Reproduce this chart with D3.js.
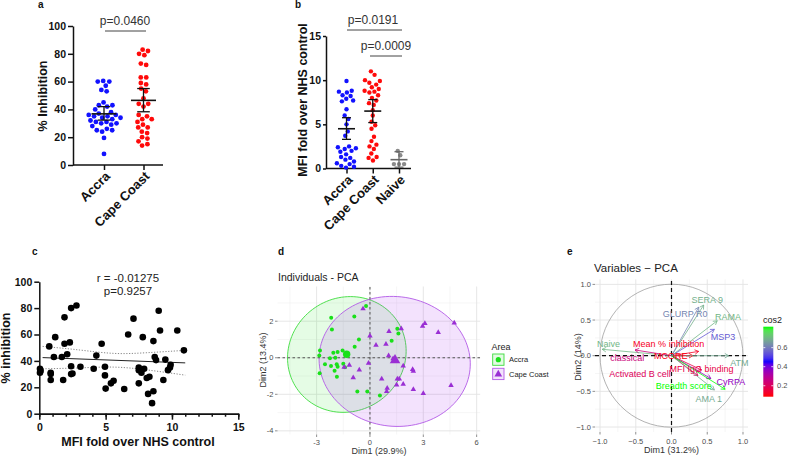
<!DOCTYPE html>
<html>
<head>
<meta charset="utf-8">
<script src="https://cdn.jsdelivr.net/npm/d3@7"></script>
<style>
  body { margin: 0; background: #fff; }
  text { font-family: Arial, "Liberation Sans", sans-serif; }
</style>
</head>
<body>
<svg id="chart" width="793" height="457"></svg>
<script>
// ====== Dados ======
// painel a: % inibição por área
const groupsA = ["Accra", "Cape Coast"];
const inhibAccra = [60, 60.5, 60, 57, 54, 53, 45, 43, 43, 42, 40, 38, 37, 36, 36, 35, 35, 34, 34, 33, 32, 31, 31, 30, 30, 29, 28, 26, 25, 25, 24, 19.5, 8];
const inhibCape = [83, 82, 80, 79, 73, 72, 63, 63, 59, 58, 55, 53, 48, 44, 44, 42, 36, 35, 33, 33, 31, 29, 27, 27, 24, 23, 20, 19, 17, 15, 14];
const meanA = [36.8, 46.5];
const semLowA = [32.3, 38.3];
const semHighA = [42, 55];
const ticksA = [0, 20, 40, 60, 80, 100];

// painel b: MFI fold over NHS
const groupsB = ["Accra", "Cape Coast", "Naive"];
const mfiAccra = [9.9, 8.8, 8.7, 8.6, 8.3, 8.2, 7.9, 7.7, 7.6, 6.7, 6.0, 5.6, 5.0, 4.2, 3.7, 2.5, 2.4, 2.3, 2.2, 2.0, 1.9, 1.6, 1.3, 1.2, 1.0, 0.8, 0.6, 0.5, 0.3, 0.2, 0.1];
const mfiCape = [11.0, 10.6, 10.0, 9.9, 9.7, 9.5, 9.2, 9.0, 8.8, 8.7, 8.6, 8.3, 8.0, 7.7, 7.4, 7.2, 6.6, 6.0, 5.3, 4.9, 4.5, 3.6, 3.1, 2.7, 2.5, 2.2, 1.7, 1.3, 1.2, 0.9];
const mfiNaive = [2.0, 1.5, 0.5, 0.5, 0.5];
const meanB = [4.5, 6.5, 1.0];
const semLowB = [3.3, 5.2, 0.15];
const semHighB = [5.75, 7.8, 1.9];
const ticksB = [0, 5, 10, 15];

// painel c: correlação
const corrX = [0.05, 0.05, 0.1, 0.75, 0.86, 0.86, 0.86, 1.1, 1.2, 1.7, 1.8, 1.9, 1.9, 2.1, 2.3, 2.4, 2.4, 2.4, 2.5, 2.8, 3.1, 4.1, 4.3, 4.7, 4.95, 4.95, 5.0, 5.4, 5.6, 6.4, 6.7, 7.1, 7.5, 7.5, 7.5, 7.7, 7.8, 7.9, 8.1, 8.2, 8.3, 8.5, 8.6, 8.6, 8.7, 8.8, 9.0, 9.1, 9.35, 9.5, 9.7, 9.85, 9.9, 10.4, 10.9];
const corrY = [34, 31, 32.5, 51, 31, 30, 25.5, 43, 58, 43, 25.5, 73, 53, 45, 54, 80, 30, 36, 30.5, 82, 35.6, 34, 44, 53, 35.6, 29, 19, 23, 25, 18.7, 60, 72, 23, 35, 33, 31, 58, 34, 27, 15, 28, 8, 17, 55, 43, 40.6, 78, 63, 25.5, 41, 33, 35, 37, 63, 48];
const fitX = [0.25, 11];
const fitY = [42.5, 38.5];
const bandX = [0.25, 3, 5.6, 8.1, 11];
const bandUpper = [51, 48.3, 45.7, 46.2, 48];
const bandLower = [34, 34.7, 35.3, 33.2, 29.2];

// painel d: PCA indivíduos
const accraPC1 = [-0.22, -2.18, -0.88, -2.14, 1.54, 1.6, 1.22, -0.62, -0.86, -2.81, -2.85, -2.06, -1.82, -1.54, -2.25, -1.95, -2.53, -2.19, -1.87, -1.82, -1.5, -1.41, -1.99, -2.83, -1.86, -0.71, -0.15, 0.56];
const accraPC2 = [2.83, 2.19, 2.26, 1.55, 1.59, 1.33, 0.93, 1.0, 0.6, 0.4, 0.13, 0.27, 0.31, 0.4, -0.03, 0, -0.36, -0.45, -0.36, -0.49, -0.33, -0.52, -0.71, -0.85, -1.04, -1.84, -1.84, -2.06];
const capePC1 = [-0.39, 1.07, 1.76, 0, 0.34, 0.9, 1.05, -1.16, -1.45, -0.08, -0.6, 1.87, -0.94, 0.66, 1.54, 1.65, 1.5, 1.87, 0.97, 0.94, 2.44, 2.4, 3.09, 2.96, 4.74, 3.84, 2.44, 3.0, 4.56, 1.3];
const capePC2 = [2.68, 1.44, 1.59, 1.2, 0.69, 0.75, 0.11, -0.4, -0.52, -0.29, -0.67, -0.45, -1.09, -1.16, -1.16, -1.16, -1.49, -1.45, -1.67, -1.84, -1.73, -0.64, 1.88, 1.73, 1.91, 1.39, -0.73, -1.95, -1.51, -0.05];
const areaNames = ["Accra", "Cape Coast"];
const areaMeanX = [-1.31, 1.41];
const areaMeanY = [0.19, -0.13];
const ellA = [3.38, 4.26];
const ellB = [3.12, 3.55];
const ellAngle = [25, -6];
const ellCx = [-1.3, 1.39];
const ellCy = [0.18, -0.2];

// painel e: PCA variáveis
const varNames = ["Naive", "classical", "Mean % inhibition", "MCORE", "MFI IgG binding", "Activated B cell", "ATM", "SERA 9", "GLURP R0", "RAMA", "MSP3", "CyRPA", "AMA 1", "Breadth score"];
const varDim1 = [-0.97, -0.51, 0.38, 0.3, 0.42, 0.37, 0.8, 0.45, 0.38, 0.64, 0.6, 0.55, 0.6, 0.75];
const varDim2 = [0.09, 0.08, 0.06, 0.0, -0.2, -0.28, 0.0, 0.71, 0.68, 0.49, 0.37, -0.32, -0.48, -0.47];
const varCos2 = [0.7, 0.25, 0.12, 0.1, 0.17, 0.2, 0.68, 0.69, 0.62, 0.7, 0.55, 0.36, 0.68, 0.82];
const labelDim1 = [-0.88, -0.62, -0.04, -0.01, 0.42, -0.44, 0.95, 0.5, 0.19, 0.79, 0.72, 0.83, 0.52, 0.17];
const labelDim2 = [0.17, -0.03, 0.17, -0.005, -0.19, -0.26, -0.1, 0.78, 0.58, 0.54, 0.26, -0.36, -0.61, -0.42];
const cos2Ticks = [0.2, 0.4, 0.6];

const svg = d3.select("#chart");

// ====== Funções auxiliares ======
function panelLabel(x, y, t) {
  svg.append("text").attr("x", x).attr("y", y).text(t)
    .style("font-size", "10px").style("font-weight", "bold").attr("fill", "#111");
}

// arranjo tipo "beeswarm" com simulação de forças
function swarm(values, y, cx, r) {
  const nodes = values.slice().sort((a, b) => b - a)
    .map((v, i) => ({ v, x: cx + (i % 2 ? 0.7 : -0.7) * ((i % 3) + 1), y: y(v), fy: y(v) }));
  const sim = d3.forceSimulation(nodes)
    .force("x", d3.forceX(cx).strength(0.12))
    .force("collide", d3.forceCollide(r + 0.35))
    .stop();
  for (let i = 0; i < 250; i++) sim.tick();
  return nodes;
}

function styleAxis(sel, fs) {
  sel.selectAll("path, line").attr("stroke", "#111").attr("stroke-width", 1.5);
  sel.selectAll("text").style("font-size", fs).style("font-weight", "bold").attr("fill", "#111");
}

function dotPanel(o) {
  const g = svg.append("g");
  const y = d3.scaleLinear().domain(o.yDomain).range(o.yRange);
  const x = d3.scalePoint().domain(o.groups).range(o.xRange);

  const yAx = g.append("g").attr("transform", `translate(${o.axisX},0)`)
    .call(d3.axisLeft(y).tickValues(o.yTicks).tickSize(o.tick).tickPadding(2).tickSizeOuter(0));
  styleAxis(yAx, "10.5px");

  const xAx = g.append("g").attr("transform", `translate(0,${o.yRange[0]})`)
    .call(d3.axisBottom(x).tickSize(5).tickSizeOuter(0));
  xAx.select(".domain").remove();
  styleAxis(xAx, "13px");
  xAx.selectAll("text")
    .attr("x", -4).attr("y", 8.5).attr("dy", "0.35em")
    .attr("transform", "rotate(-45)").style("text-anchor", "end");
  g.append("line").attr("x1", o.axisX).attr("x2", o.axisEnd)
    .attr("y1", o.yRange[0]).attr("y2", o.yRange[0])
    .attr("stroke", "#111").attr("stroke-width", 1.5);

  o.series.forEach((vals, i) => {
    const pts = swarm(vals, y, x(o.groups[i]), o.r);
    g.append("g").selectAll("circle").data(pts).enter().append("circle")
      .attr("cx", d => d.x).attr("cy", d => d.y).attr("r", o.r)
      .attr("fill", o.colors[i]);
  });

  o.groups.forEach((gr, i) => {
    const cx = x(gr);
    const col = o.barColors[i];
    g.append("line").attr("x1", cx - o.meanHalf).attr("x2", cx + o.meanHalf)
      .attr("y1", y(o.mean[i])).attr("y2", y(o.mean[i]))
      .attr("stroke", col).attr("stroke-width", 1.6);
    g.append("line").attr("x1", cx).attr("x2", cx)
      .attr("y1", y(o.semLow[i])).attr("y2", y(o.semHigh[i]))
      .attr("stroke", col).attr("stroke-width", 1.3);
    [o.semLow[i], o.semHigh[i]].forEach(v => {
      g.append("line").attr("x1", cx - o.capHalf).attr("x2", cx + o.capHalf)
        .attr("y1", y(v)).attr("y2", y(v))
        .attr("stroke", col).attr("stroke-width", 1.3);
    });
  });

  g.append("text").attr("transform", `translate(${o.titleX},${o.titleY}) rotate(-90)`)
    .attr("text-anchor", "middle").text(o.yTitle)
    .style("font-size", "12.5px").style("font-weight", "bold").attr("fill", "#111");

  o.brackets.forEach(b => {
    g.append("line").attr("x1", b.x1).attr("x2", b.x2).attr("y1", b.y).attr("y2", b.y)
      .attr("stroke", "#444").attr("stroke-width", 1);
    g.append("text").attr("x", b.tx).attr("y", b.ty).attr("text-anchor", "middle")
      .text(b.label).style("font-size", "12px").attr("fill", "#333");
  });
  return { x, y };
}

// ====== Painel a ======
panelLabel(38, 8, "a");
dotPanel({
  groups: groupsA, series: [inhibAccra, inhibCape],
  colors: ["#1212ff", "#ff0a0a"], barColors: ["#111", "#111"],
  yDomain: [0, 100], yRange: [165, 26], yTicks: ticksA,
  xRange: [104, 143.5], axisX: 73, axisEnd: 163, tick: 5,
  mean: meanA, semLow: semLowA, semHigh: semHighA,
  r: 2.4, meanHalf: 12.5, capHalf: 6.3,
  yTitle: "% Inhibition", titleX: 46.5, titleY: 96,
  brackets: [{ x1: 105, x2: 146, y: 31, tx: 125, ty: 25, label: "p=0.0460" }]
});

// ====== Painel b ======
panelLabel(295, 8, "b");
dotPanel({
  groups: groupsB, series: [mfiAccra, mfiCape, mfiNaive],
  colors: ["#1212ff", "#ff0a0a", "#8a8a8a"], barColors: ["#111", "#111", "#666"],
  yDomain: [0, 15], yRange: [168.5, 36], yTicks: ticksB,
  xRange: [346.5, 399], axisX: 326, axisEnd: 411, tick: 3,
  mean: meanB, semLow: semLowB, semHigh: semHighB,
  r: 2.2, meanHalf: 8.5, capHalf: 4.5,
  yTitle: "MFI fold over NHS control", titleX: 306.5, titleY: 100,
  brackets: [
    { x1: 347, x2: 402, y: 30, tx: 373, ty: 24, label: "p=0.0191" },
    { x1: 370, x2: 402, y: 56, tx: 386, ty: 49.5, label: "p=0.0009" }
  ]
});

// ====== Painel c ======
panelLabel(32, 255, "c");
(function () {
  const g = svg.append("g");
  const x = d3.scaleLinear().domain([0, 15]).range([39.3, 238.3]);
  const y = d3.scaleLinear().domain([0, 100]).range([413.7, 281.7]);

  const yAx = g.append("g").attr("transform", "translate(39.3,0)")
    .call(d3.axisLeft(y).tickValues([0, 20, 40, 60, 80, 100]).tickSize(5).tickPadding(2).tickSizeOuter(0));
  styleAxis(yAx, "10.5px");
  const xMinor = g.append("g").attr("transform", "translate(0,413.7)")
    .call(d3.axisBottom(x).tickValues(d3.range(0, 16)).tickSize(3).tickFormat("").tickSizeOuter(0));
  styleAxis(xMinor, "10.5px");
  const xAx = g.append("g").attr("transform", "translate(0,413.7)")
    .call(d3.axisBottom(x).tickValues([0, 5, 10, 15]).tickSize(6).tickPadding(4).tickSizeOuter(0));
  styleAxis(xAx, "10.5px");

  const band = d3.line().x((d, i) => x(bandX[i])).y(d => y(d)).curve(d3.curveNatural);
  [bandUpper, bandLower].forEach(b => {
    g.append("path").attr("d", band(b)).attr("fill", "none")
      .attr("stroke", "#777").attr("stroke-width", 0.9).attr("stroke-dasharray", "1.2,1.6");
  });
  g.append("line").attr("x1", x(fitX[0])).attr("x2", x(fitX[1]))
    .attr("y1", y(fitY[0])).attr("y2", y(fitY[1]))
    .attr("stroke", "#222").attr("stroke-width", 1);

  g.append("g").selectAll("circle").data(corrX).enter().append("circle")
    .attr("cx", d => x(d)).attr("cy", (d, i) => y(corrY[i])).attr("r", 3.3).attr("fill", "#000");

  g.append("text").attr("x", 128).attr("y", 282).attr("text-anchor", "middle")
    .text("r = -0.01275").style("font-size", "11.5px").attr("fill", "#222");
  g.append("text").attr("x", 128).attr("y", 295).attr("text-anchor", "middle")
    .text("p=0.9257").style("font-size", "11.5px").attr("fill", "#222");

  g.append("text").attr("x", 138).attr("y", 446).attr("text-anchor", "middle")
    .text("MFI fold over NHS control").style("font-size", "12.5px").style("font-weight", "bold").attr("fill", "#111");
  g.append("text").attr("transform", "translate(10,348) rotate(-90)").attr("text-anchor", "middle")
    .text("% inhibition").style("font-size", "12.5px").style("font-weight", "bold").attr("fill", "#111");
})();

// ====== Painel d ======
panelLabel(278, 255, "d");
(function () {
  const g = svg.append("g");
  const x = d3.scaleLinear().domain([-5.2, 6.2]).range([277.5, 480.2]);
  const y = d3.scaleLinear().domain([-4.2, 3.9]).range([434.5, 286.5]);
  const [x0, x1] = x.range(), [y0, y1] = y.range();

  // grade
  [-4.5, -1.5, 1.5, 4.5].forEach(v => g.append("line").attr("x1", x(v)).attr("x2", x(v)).attr("y1", y0).attr("y2", y1).attr("stroke", "#f0f0f0").attr("stroke-width", 0.6));
  [-3, -1, 1, 3].forEach(v => g.append("line").attr("y1", y(v)).attr("y2", y(v)).attr("x1", x0).attr("x2", x1).attr("stroke", "#f0f0f0").attr("stroke-width", 0.6));
  [-3, 0, 3, 6].forEach(v => g.append("line").attr("x1", x(v)).attr("x2", x(v)).attr("y1", y0).attr("y2", y1).attr("stroke", "#e3e3e3").attr("stroke-width", 0.9));
  [-4, -2, 0, 2].forEach(v => g.append("line").attr("y1", y(v)).attr("y2", y(v)).attr("x1", x0).attr("x2", x1).attr("stroke", "#e3e3e3").attr("stroke-width", 0.9));

  // elipses
  const fills = ["rgba(0,230,0,0.10)", "rgba(160,32,240,0.13)"];
  const strokes = ["#3ddc3d", "#b25ae6"];
  areaNames.forEach((a, i) => {
    const th = ellAngle[i] * Math.PI / 180;
    const pts = d3.range(0, 360, 3).map(dg => {
      const s = dg * Math.PI / 180;
      const ex = ellA[i] * Math.cos(s), ey = ellB[i] * Math.sin(s);
      return [x(ellCx[i] + ex * Math.cos(th) - ey * Math.sin(th)), y(ellCy[i] + ex * Math.sin(th) + ey * Math.cos(th))];
    });
    g.append("path").attr("d", d3.line()(pts) + "Z")
      .attr("fill", fills[i]).attr("stroke", strokes[i]).attr("stroke-width", 0.9);
  });

  // linhas tracejadas
  g.append("line").attr("x1", x(0)).attr("x2", x(0)).attr("y1", y0).attr("y2", y1)
    .attr("stroke", "#555").attr("stroke-width", 1).attr("stroke-dasharray", "2.5,2.5");
  g.append("line").attr("y1", y(0)).attr("y2", y(0)).attr("x1", x0).attr("x2", x1)
    .attr("stroke", "#555").attr("stroke-width", 1).attr("stroke-dasharray", "2.5,2.5");

  // pontos
  const green = "#19e019", purple = "#9a2fd4";
  g.append("g").selectAll("circle").data(accraPC1).enter().append("circle")
    .attr("cx", d => x(d)).attr("cy", (d, i) => y(accraPC2[i])).attr("r", 2).attr("fill", green);
  const tri = d3.symbol(d3.symbolTriangle, 13);
  g.append("g").selectAll("path").data(capePC1).enter().append("path")
    .attr("d", tri).attr("transform", (d, i) => `translate(${x(d)},${y(capePC2[i])})`).attr("fill", purple);
  g.append("circle").attr("cx", x(areaMeanX[0])).attr("cy", y(areaMeanY[0])).attr("r", 3.7).attr("fill", green);
  g.append("path").attr("d", d3.symbol(d3.symbolTriangle, 48))
    .attr("transform", `translate(${x(areaMeanX[1])},${y(areaMeanY[1])})`).attr("fill", purple);

  // eixos
  [-3, 0, 3, 6].forEach(v => {
    g.append("line").attr("x1", x(v)).attr("x2", x(v)).attr("y1", y0).attr("y2", y0 + 2.5).attr("stroke", "#444").attr("stroke-width", 0.6);
    g.append("text").attr("x", x(v)).attr("y", 444.5).attr("text-anchor", "middle").text(v)
      .style("font-size", "7.5px").attr("fill", "#4d4d4d");
  });
  [-4, -2, 0, 2].forEach(v => {
    g.append("line").attr("x1", x0 - 2.5).attr("x2", x0).attr("y1", y(v)).attr("y2", y(v)).attr("stroke", "#444").attr("stroke-width", 0.6);
    g.append("text").attr("x", x0 - 4).attr("y", y(v)).attr("dy", "0.35em").attr("text-anchor", "end").text(v)
      .style("font-size", "7.5px").attr("fill", "#4d4d4d");
  });
  g.append("text").attr("x", 379).attr("y", 454).attr("text-anchor", "middle")
    .text("Dim1 (29.9%)").style("font-size", "9px").attr("fill", "#333");
  g.append("text").attr("transform", "translate(266,360) rotate(-90)").attr("text-anchor", "middle")
    .text("Dim2 (13.4%)").style("font-size", "9px").attr("fill", "#333");
  g.append("text").attr("x", 278).attr("y", 281).text("Individuals - PCA")
    .style("font-size", "10.5px").attr("fill", "#222");

  // legenda
  g.append("text").attr("x", 491.5).attr("y", 350).text("Area").style("font-size", "9px").attr("fill", "#222");
  const keyFill = ["#e2fbe2", "#f2e2fb"];
  areaNames.forEach((a, i) => {
    const ky = 354 + i * 14.3;
    g.append("rect").attr("x", 492.7).attr("y", ky).attr("width", 11.3).attr("height", 11.3)
      .attr("fill", keyFill[i]).attr("stroke", strokes[i]).attr("stroke-width", 0.9);
    if (i === 0) {
      g.append("circle").attr("cx", 498.3).attr("cy", ky + 5.65).attr("r", 2.6).attr("fill", green);
    } else {
      g.append("path").attr("d", d3.symbol(d3.symbolTriangle, 26))
        .attr("transform", `translate(498.3,${ky + 6})`).attr("fill", purple);
    }
    g.append("text").attr("x", 509).attr("y", ky + 5.65).attr("dy", "0.35em").text(a)
      .style("font-size", "7.5px").attr("fill", "#222");
  });
})();

// ====== Painel e ======
panelLabel(567, 255, "e");
(function () {
  const g = svg.append("g");
  const x = d3.scaleLinear().domain([-1.07, 1.07]).range([595, 748]);
  const y = d3.scaleLinear().domain([-1.07, 1.07]).range([432, 279.4]);
  const [x0, x1] = x.range(), [y0, y1] = y.range();
  const color = d3.scaleLinear().domain([0.09, 0.455, 0.82])
    .range(["#ff0000", "#0000ff", "#00ff00"]).interpolate(d3.interpolateLab);

  [-0.75, -0.25, 0.25, 0.75].forEach(v => {
    g.append("line").attr("x1", x(v)).attr("x2", x(v)).attr("y1", y0).attr("y2", y1).attr("stroke", "#f0f0f0").attr("stroke-width", 0.6);
    g.append("line").attr("y1", y(v)).attr("y2", y(v)).attr("x1", x0).attr("x2", x1).attr("stroke", "#f0f0f0").attr("stroke-width", 0.6);
  });
  const ticksE = [-1, -0.5, 0, 0.5, 1];
  ticksE.forEach(v => {
    g.append("line").attr("x1", x(v)).attr("x2", x(v)).attr("y1", y0).attr("y2", y1).attr("stroke", "#e3e3e3").attr("stroke-width", 0.9);
    g.append("line").attr("y1", y(v)).attr("y2", y(v)).attr("x1", x0).attr("x2", x1).attr("stroke", "#e3e3e3").attr("stroke-width", 0.9);
  });

  // círculo de correlação
  g.append("circle").attr("cx", x(0)).attr("cy", y(0)).attr("r", x(1) - x(0))
    .attr("fill", "none").attr("stroke", "#a0a0a0").attr("stroke-width", 0.8);

  g.append("line").attr("x1", x(0)).attr("x2", x(0)).attr("y1", y0).attr("y2", y1)
    .attr("stroke", "#111").attr("stroke-width", 1.2).attr("stroke-dasharray", "4,3");
  g.append("line").attr("y1", y(0)).attr("y2", y(0)).attr("x1", x0).attr("x2", x1)
    .attr("stroke", "#111").attr("stroke-width", 1.2).attr("stroke-dasharray", "4,3");

  const fmt = v => (v < 0 ? "\u2212" : "") + Math.abs(v).toFixed(1);
  ticksE.forEach(v => {
    g.append("line").attr("x1", x(v)).attr("x2", x(v)).attr("y1", y0).attr("y2", y0 + 2.5).attr("stroke", "#444").attr("stroke-width", 0.6);
    g.append("text").attr("x", x(v)).attr("y", 443.5).attr("text-anchor", "middle").text(fmt(v))
      .style("font-size", "7.5px").attr("fill", "#4d4d4d");
    g.append("line").attr("x1", x0 - 2.5).attr("x2", x0).attr("y1", y(v)).attr("y2", y(v)).attr("stroke", "#444").attr("stroke-width", 0.6);
    g.append("text").attr("x", x0 - 4).attr("y", y(v)).attr("dy", "0.35em").attr("text-anchor", "end").text(fmt(v))
      .style("font-size", "7.5px").attr("fill", "#4d4d4d");
  });

  // setas
  const ox = x(0), oy = y(0);
  varNames.forEach((n, i) => {
    const tx = x(varDim1[i]), ty = y(varDim2[i]);
    const c = color(varCos2[i]);
    const ang = Math.atan2(ty - oy, tx - ox), L = 4.5;
    g.append("line").attr("x1", ox).attr("y1", oy).attr("x2", tx).attr("y2", ty)
      .attr("stroke", c).attr("stroke-width", 0.8);
    g.append("path").attr("d", d3.line()([
      [tx - L * Math.cos(ang - Math.PI / 6), ty - L * Math.sin(ang - Math.PI / 6)],
      [tx, ty],
      [tx - L * Math.cos(ang + Math.PI / 6), ty - L * Math.sin(ang + Math.PI / 6)]
    ])).attr("fill", "none").attr("stroke", c).attr("stroke-width", 0.8);
  });
  varNames.forEach((n, i) => {
    g.append("text").attr("x", x(labelDim1[i])).attr("y", y(labelDim2[i])).attr("dy", "0.35em")
      .attr("text-anchor", "middle").text(n).style("font-size", "9px").attr("fill", color(varCos2[i]));
  });

  g.append("text").attr("x", 671.5).attr("y", 453).attr("text-anchor", "middle")
    .text("Dim1 (31.2%)").style("font-size", "9px").attr("fill", "#333");
  g.append("text").attr("transform", "translate(581,357) rotate(-90)").attr("text-anchor", "middle")
    .text("Dim2 (14%)").style("font-size", "9px").attr("fill", "#333");
  g.append("text").attr("x", 594).attr("y", 272).text("Variables \u2212 PCA")
    .style("font-size", "11.5px").attr("fill", "#222");

  // legenda de cores
  const cb = d3.scaleLinear().domain([0.085, 0.82]).range([396.7, 326.7]);
  const grad = svg.append("defs").append("linearGradient").attr("id", "cosGrad")
    .attr("x1", 0).attr("x2", 0).attr("y1", 1).attr("y2", 0);
  d3.range(0, 1.001, 0.05).forEach(t => {
    grad.append("stop").attr("offset", t).attr("stop-color", color(0.085 + t * (0.82 - 0.085)));
  });
  g.append("text").attr("x", 763).attr("y", 323).text("cos2").style("font-size", "9px").attr("fill", "#222");
  g.append("rect").attr("x", 763.3).attr("y", 326.7).attr("width", 10).attr("height", 70)
    .attr("fill", "url(#cosGrad)");
  cos2Ticks.forEach(v => {
    g.append("line").attr("x1", 763.3).attr("x2", 765.3).attr("y1", cb(v)).attr("y2", cb(v)).attr("stroke", "#fff").attr("stroke-width", 0.8);
    g.append("line").attr("x1", 771.3).attr("x2", 773.3).attr("y1", cb(v)).attr("y2", cb(v)).attr("stroke", "#fff").attr("stroke-width", 0.8);
    g.append("text").attr("x", 777).attr("y", cb(v)).attr("dy", "0.35em").text(v.toFixed(1))
      .style("font-size", "7.5px").attr("fill", "#4d4d4d");
  });
})();
</script>
</body>
</html>
